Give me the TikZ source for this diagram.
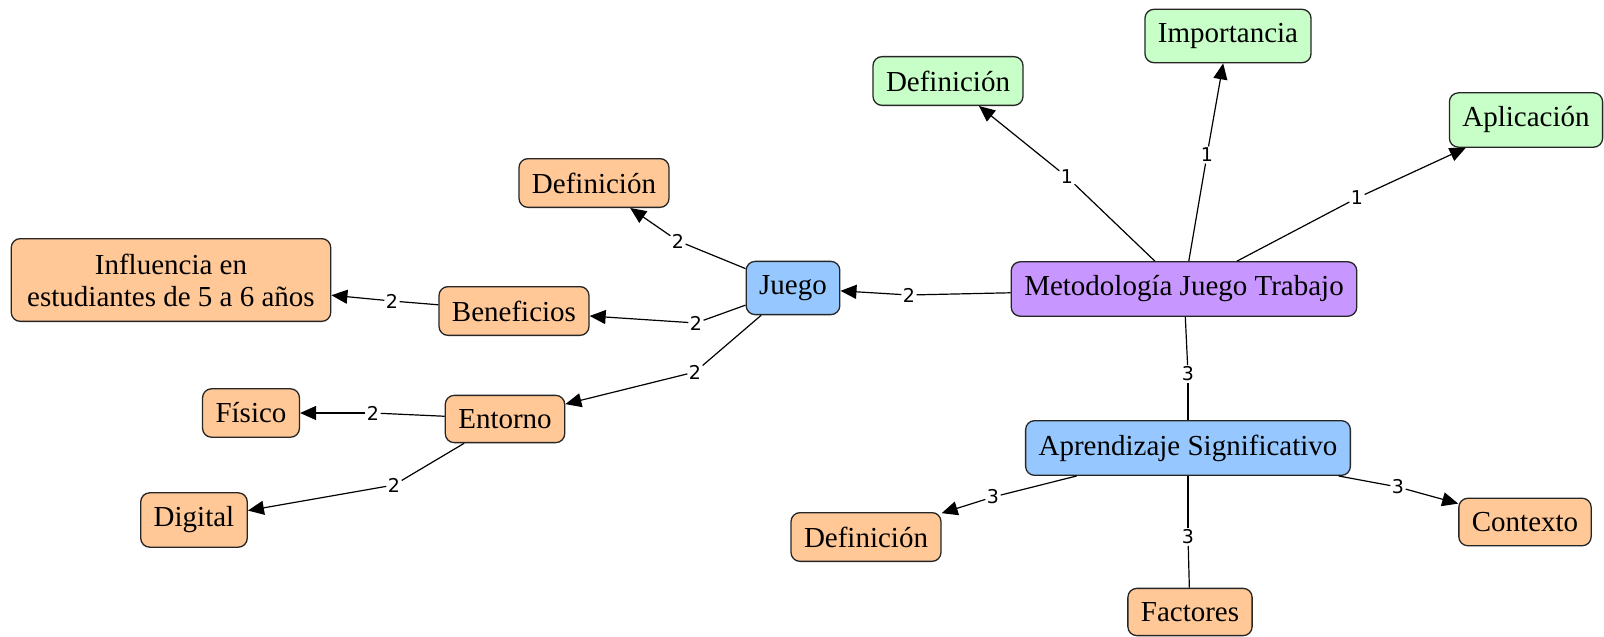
\documentclass[tikz,border=0pt]{standalone}
\usepackage{fontspec}
\setmainfont{Liberation Serif}
\newfontfamily\enlacefont{DejaVu Sans}
\usetikzlibrary{arrows.meta}
\definecolor{naranja}{RGB}{255,200,150}
\definecolor{verde}{RGB}{200,255,200}
\definecolor{morado}{RGB}{200,150,255}
\definecolor{azul}{RGB}{150,200,255}
\tikzset{
  concepto/.style={draw=black!85, line width=1.3pt, rounded corners=9pt,
    inner xsep=13pt, inner ysep=14pt, font=\fontsize{29}{32}\selectfont},
  enlace/.style={fill=white, inner sep=1pt, font=\enlacefont\fontsize{19}{19}\selectfont},
  flecha/.style={-{Triangle[length=16pt,width=14pt]}},
}
\begin{document}
\begin{tikzpicture}[x=1pt,y=-1pt,line width=1.2pt]
\useasboundingbox (0,0) rectangle (1604,637);

\node[concepto,fill=morado] (metodo) at (1184,289) {Metodología Juego Trabajo};
\node[concepto,fill=verde] (defa) at (948,81) {Definición};
\node[concepto,fill=verde] (impor) at (1228,36) {Importancia};
\node[concepto,fill=verde] (aplic) at (1526,120) {Aplicación};
\node[concepto,fill=azul] (juego) at (793,288) {Juego};
\node[concepto,fill=azul] (aprend) at (1188,448) {Aprendizaje Significativo};
\node[concepto,fill=naranja] (defb) at (594,183) {Definición};
\node[concepto,fill=naranja,align=center,inner xsep=16pt,inner ysep=15pt] (influ) at (171,280) {Influencia en\\estudiantes de 5 a 6 años};
\node[concepto,fill=naranja] (benef) at (514,311) {Beneficios};
\node[concepto,fill=naranja] (entorno) at (505,419) {Entorno};
\node[concepto,fill=naranja] (fisico) at (251,413) {Físico};
\node[concepto,fill=naranja] (digital) at (194,520) {Digital};
\node[concepto,fill=naranja] (defc) at (866,537) {Definición};
\node[concepto,fill=naranja] (factores) at (1190,612) {Factores};
\node[concepto,fill=naranja] (contexto) at (1525,522) {Contexto};

\node[enlace] (e1) at (1067,177) {1};
\node[enlace] (e2) at (1207,155) {1};
\node[enlace] (e3) at (1357,198) {1};
\node[enlace] (e4) at (909,295) {2};
\node[enlace] (e5) at (1188,374) {3};
\node[enlace] (e6) at (678,241) {2};
\node[enlace] (e7) at (696,323) {2};
\node[enlace] (e8) at (695,372) {2};
\node[enlace] (e9) at (392,301) {2};
\node[enlace] (e10) at (373,413) {2};
\node[enlace] (e11) at (394,485) {2};
\node[enlace] (e12) at (993,497) {3};
\node[enlace] (e13) at (1188,537) {3};
\node[enlace] (e14) at (1398,487) {3};

\draw (metodo) -- (e1);
\draw[flecha] (e1) -- (defa);
\draw (metodo) -- (e2);
\draw[flecha] (e2) -- (impor);
\draw (metodo) -- (e3);
\draw[flecha] (e3) -- (aplic);
\draw (metodo) -- (e4);
\draw[flecha] (e4) -- (juego);
\draw (metodo) -- (e5);
\draw (e5) -- (aprend);
\draw (juego) -- (e6);
\draw[flecha] (e6) -- (defb);
\draw (juego) -- (e7);
\draw[flecha] (e7) -- (benef);
\draw (juego) -- (e8);
\draw[flecha] (e8) -- (entorno);
\draw (benef) -- (e9);
\draw[flecha] (e9) -- (influ);
\draw (entorno) -- (e10);
\draw[flecha] (e10) -- (fisico);
\draw (entorno) -- (e11);
\draw[flecha] (e11) -- (digital);
\draw (aprend) -- (e12);
\draw[flecha] (e12) -- (defc);
\draw (aprend) -- (e13);
\draw (e13) -- (factores);
\draw (aprend) -- (e14);
\draw[flecha] (e14) -- (contexto);
\end{tikzpicture}
\end{document}
